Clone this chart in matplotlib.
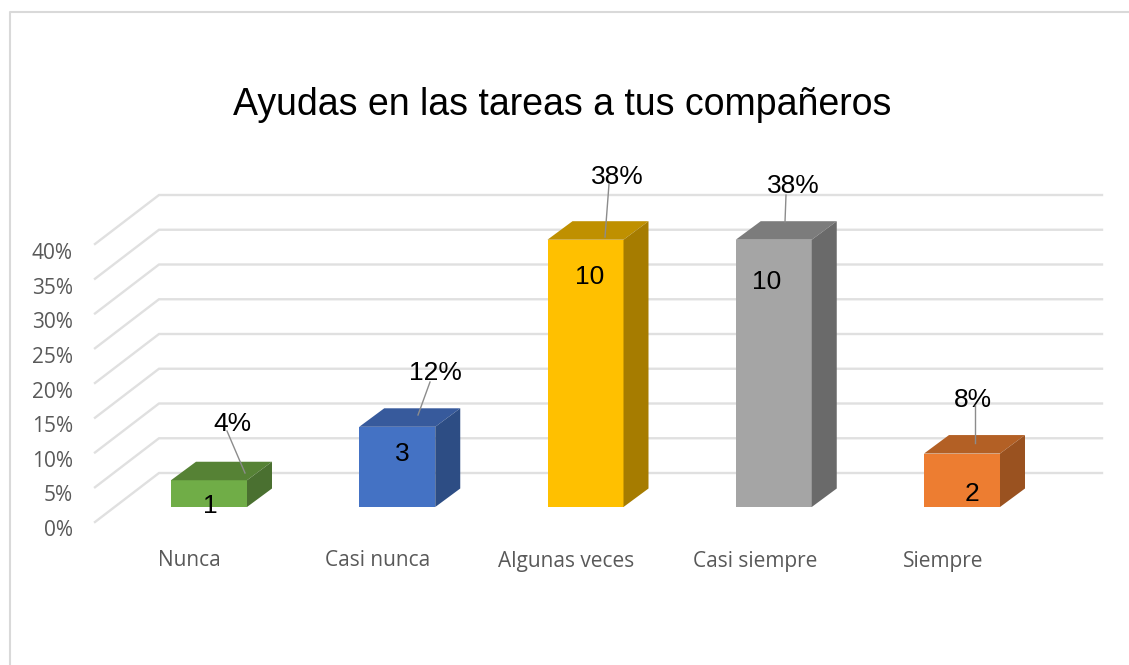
import matplotlib
matplotlib.use("Agg")
import matplotlib.pyplot as plt
from matplotlib.lines import Line2D
from matplotlib.patches import Polygon

W, H = 1129, 665

categories = ["Nunca", "Casi nunca", "Algunas veces", "Casi siempre", "Siempre"]
percent = [3.85, 11.54, 38.46, 38.46, 7.69]
percent_labels = ["4%", "12%", "38%", "38%", "8%"]
counts = [1, 3, 10, 10, 2]
y_ticks = [0, 5, 10, 15, 20, 25, 30, 35, 40]

front_colors = ["#70AD47", "#4472C4", "#FFC000", "#A5A5A5", "#ED7D31"]
top_colors = ["#568235", "#375A9C", "#BF9000", "#7C7C7C", "#B36025"]
side_colors = ["#4A7030", "#2D4D84", "#A67C00", "#6A6A6A", "#9A5220"]

# layout, in pixels of the reference
pct_pos = [(232, 424), (435, 373), (617, 177), (793, 186), (973, 400)]
count_pos = [(210, 506), (402, 454), (590, 277), (767, 282), (972, 494)]
leaders = [((227, 431), (245, 473)), ((430, 382), (418, 415)), ((609, 184), (605, 237)),
           ((786, 195), (785, 222)), ((975, 405), (975, 443))]
cat_x = [189, 378, 566.5, 755, 943]

X0, XSTEP = 209, 188.25   # px of the first bar centre, px between bars
Y0, YSCALE = 507, 6.95    # px of the bar base, px per percent
BAR_W = 76 / XSTEP
BAR_DX, BAR_DY = 25 / XSTEP, 18.5 / YSCALE
WALL_DX, WALL_DY = 64 / XSTEP, 49 / YSCALE
FLOOR = -15 / YSCALE
GRID_END = (1102 - X0) / XSTEP
AXIS_X = (95 - X0) / XSTEP

GRID = "#E0E0E0"
GRAY_TEXT = "#595959"
ARIAL = "Liberation Sans"
LABEL_FONT = "Open Sans"


def ref(px, py):
    return px / W, 1 - py / H


fig = plt.figure(figsize=(W / 100, H / 100), dpi=100)
ax = fig.add_axes([0, 0, 1, 1])
ax.set_xlim(-X0 / XSTEP, (W - X0) / XSTEP)
ax.set_ylim((Y0 - H) / YSCALE, Y0 / YSCALE)
ax.axis("off")

# outer frame, only top and left show
fig.add_artist(Line2D([10 / W, 10 / W, 1], [0, 1 - 12 / H, 1 - 12 / H], color="#D9D9D9", lw=1.5))

# gridlines: slanted on the side wall, then straight along the back
for t in y_ticks:
    ya = FLOOR + t
    ax.plot([AXIS_X, AXIS_X + WALL_DX, GRID_END], [ya, ya + WALL_DY, ya + WALL_DY],
            color=GRID, lw=1.7, zorder=1, solid_joinstyle="miter")
    ax.annotate(f"{t}%", ref(73, 530.5 - 34.6 * t / 5), xycoords="figure fraction", ha="right", va="center",
                fontsize=15, color=GRAY_TEXT, family=LABEL_FONT)

x_pos = list(range(len(categories)))
ax.bar(x_pos, percent, width=BAR_W, color=front_colors, zorder=3)

for i, v in enumerate(percent):
    l, r = i - BAR_W / 2, i + BAR_W / 2
    ax.add_patch(Polygon([(l, v), (r, v), (r + BAR_DX, v + BAR_DY), (l + BAR_DX, v + BAR_DY)],
                         facecolor=top_colors[i], zorder=3))
    ax.add_patch(Polygon([(r, 0), (r + BAR_DX, BAR_DY), (r + BAR_DX, v + BAR_DY), (r, v)],
                         facecolor=side_colors[i], zorder=3))

for i in x_pos:
    start, end = leaders[i]
    fig.add_artist(Line2D(*zip(ref(*start), ref(*end)), color="#8C8C8C", lw=1.0, zorder=4))
    ax.annotate(percent_labels[i], ref(*pct_pos[i]), xycoords="figure fraction", ha="center", va="center",
                fontsize=19, family=ARIAL, color="black", zorder=5)
    ax.annotate(str(counts[i]), ref(*count_pos[i]), xycoords="figure fraction", ha="center", va="center",
                fontsize=19, family=ARIAL, color="black", zorder=5)
    ax.annotate(categories[i], ref(cat_x[i], 561), xycoords="figure fraction", ha="center", va="center",
                fontsize=15, family=LABEL_FONT, color=GRAY_TEXT)

fig.text(*ref(562.5, 105), "Ayudas en las tareas a tus compañeros", ha="center", va="center",
         fontsize=27, family=ARIAL, color="black")

fig.savefig("out.png", dpi=100)
